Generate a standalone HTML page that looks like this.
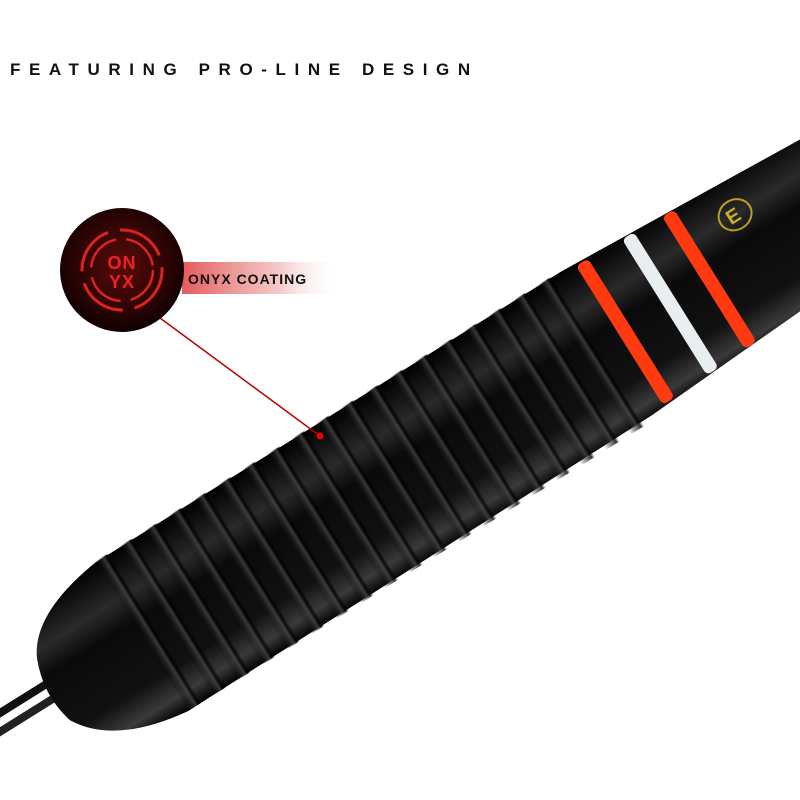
<!DOCTYPE html>
<html><head><meta charset="utf-8"><style>
html,body{margin:0;padding:0;background:#fff;width:800px;height:800px;overflow:hidden}
svg{display:block}
</style></head><body>
<svg width="800" height="800" viewBox="0 0 800 800" xmlns="http://www.w3.org/2000/svg">
<defs>
<linearGradient id="body" x1="0" y1="0" x2="0" y2="1">
<stop offset="0" stop-color="#000"/><stop offset="0.25" stop-color="#2a2a2a"/><stop offset="0.4" stop-color="#0a0a0a"/><stop offset="0.75" stop-color="#111"/><stop offset="0.9" stop-color="#3a3a3a"/><stop offset="1" stop-color="#000"/>
</linearGradient>
<linearGradient id="groove" x1="0" y1="0" x2="1" y2="0">
<stop offset="0" stop-color="#000" stop-opacity="0"/><stop offset="0.6" stop-color="#444"/><stop offset="0.8" stop-color="#000"/><stop offset="1" stop-color="#000" stop-opacity="0"/>
</linearGradient>
<linearGradient id="band" x1="0" y1="0" x2="1" y2="0">
<stop offset="0" stop-color="#d33" stop-opacity="0.8"/><stop offset="0.6" stop-color="#f0b0b0" stop-opacity="0.7"/><stop offset="1" stop-color="#fff" stop-opacity="0"/>
</linearGradient>
<radialGradient id="disc" cx="0.5" cy="0.45" r="0.55">
<stop offset="0" stop-color="#5a0a0a"/><stop offset="0.7" stop-color="#2a0404"/><stop offset="1" stop-color="#100"/>
</radialGradient>
</defs>
<text x="10" y="75" font-family="Liberation Sans, sans-serif" font-weight="bold" font-size="17" letter-spacing="8.6" fill="#111">FEATURING PRO-LINE DESIGN</text>

<g transform="translate(700,285) rotate(-32)">
<rect x="-840" y="-12" width="120" height="8" fill="#111"/>
<rect x="-840" y="4" width="120" height="8" fill="#222"/>
<path d="M-760,-35 Q-740,-75 -660,-85 L-110,-85 L170,-70 L170,70 L-110,85 L-660,90 Q-740,80 -765,35 Q-775,0 -760,-35Z" fill="url(#body)"/>
<g fill="url(#groove)" opacity="0.8">
<rect x="-660" y="-86" width="16" height="176"/><rect x="-631" y="-86" width="16" height="176"/>
<rect x="-602" y="-86" width="16" height="176"/><rect x="-573" y="-86" width="16" height="176"/>
<rect x="-544" y="-86" width="16" height="176"/><rect x="-515" y="-86" width="16" height="176"/>
<rect x="-486" y="-86" width="16" height="176"/><rect x="-457" y="-86" width="16" height="176"/>
<rect x="-428" y="-86" width="16" height="176"/><rect x="-399" y="-86" width="16" height="176"/>
<rect x="-370" y="-86" width="16" height="176"/><rect x="-341" y="-86" width="16" height="176"/>
<rect x="-312" y="-86" width="16" height="176"/><rect x="-283" y="-86" width="16" height="176"/>
<rect x="-254" y="-86" width="16" height="176"/><rect x="-225" y="-86" width="16" height="176"/>
<rect x="-196" y="-86" width="16" height="176"/><rect x="-167" y="-86" width="16" height="176"/>
<rect x="-138" y="-86" width="16" height="176"/>
</g>
<rect x="-95" y="-82" width="14" height="164" rx="5" fill="#ff3a10"/>
<rect x="-42" y="-80" width="14" height="160" rx="5" fill="#e8eef0"/>
<rect x="4" y="-78" width="14" height="156" rx="5" fill="#ff3a10"/>
<ellipse cx="67" cy="-41" rx="17" ry="15" fill="none" stroke="#b8a020" stroke-width="2"/>
<text x="58" y="-34" font-family="Liberation Sans, sans-serif" font-weight="bold" font-size="20" fill="#c8b030">E</text>
</g>

<rect x="182" y="262" width="160" height="32" fill="url(#band)"/>
<text x="188" y="284" font-family="Liberation Sans, sans-serif" font-weight="bold" font-size="14" letter-spacing="1" fill="#111">ONYX COATING</text>
<line x1="160" y1="318" x2="320" y2="436" stroke="#b00" stroke-width="1.5"/>
<circle cx="320" cy="436" r="3.5" fill="#e00"/>
<circle cx="122" cy="270" r="62" fill="url(#disc)"/>
<circle cx="122" cy="270" r="40" fill="none" stroke="#d22" stroke-width="3" stroke-dasharray="50 12"/>
<circle cx="122" cy="270" r="31" fill="none" stroke="#d22" stroke-width="2.5" stroke-dasharray="40 10"/>
<text x="122" y="269" text-anchor="middle" font-family="Liberation Sans, sans-serif" font-weight="bold" font-size="18" fill="#e22" letter-spacing="1">ON</text>
<text x="122" y="288" text-anchor="middle" font-family="Liberation Sans, sans-serif" font-weight="bold" font-size="18" fill="#e22" letter-spacing="1">YX</text>
</svg>
</body></html>
